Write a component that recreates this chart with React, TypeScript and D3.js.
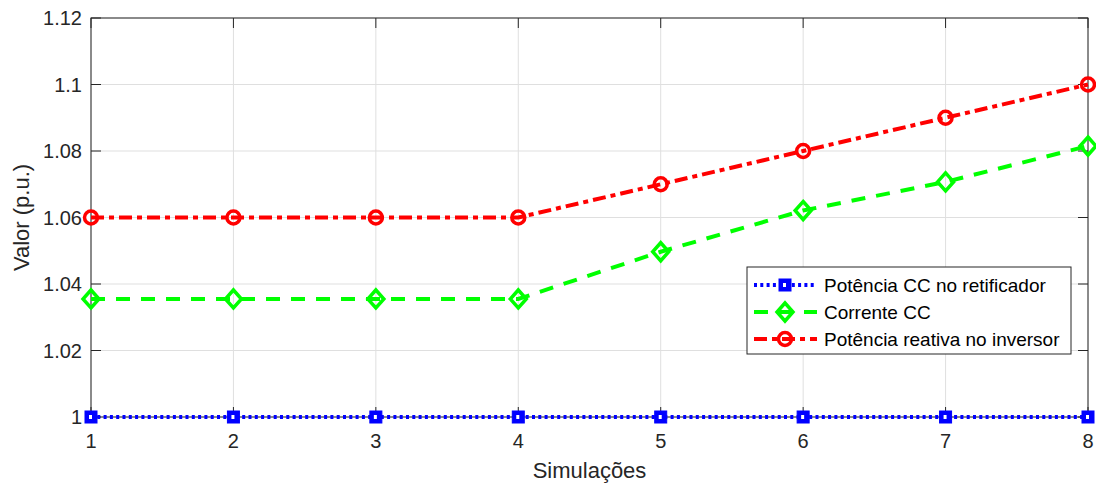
import React from "react";
import * as d3 from "d3";

const simulations = [1, 2, 3, 4, 5, 6, 7, 8];
const potenciaRetificador = [1, 1, 1, 1, 1, 1, 1, 1];
const correnteCC = [1.0355, 1.0355, 1.0355, 1.0355, 1.0497, 1.0621, 1.0707, 1.0815];
const potenciaReativa = [1.06, 1.06, 1.06, 1.06, 1.07, 1.08, 1.09, 1.1];
const yTicks = [1, 1.02, 1.04, 1.06, 1.08, 1.1, 1.12];
const yTickLabels = ["1", "1.02", "1.04", "1.06", "1.08", "1.1", "1.12"];

const W = 1096;
const H = 484;
const M = { left: 91, right: 1088, top: 18, bottom: 417 };
const FONT = "'Liberation Sans', Arial, Helvetica, sans-serif";
const AX = "#262626";

type Series = {
  name: string;
  values: number[];
  color: string;
  dash: string;
  marker: "square" | "diamond" | "circle";
};

const series: Series[] = [
  { name: "Potência CC no retificador", values: potenciaRetificador, color: "#0000ff", dash: "3 3.3", marker: "square" },
  { name: "Corrente CC", values: correnteCC, color: "#00ff00", dash: "14 11", marker: "diamond" },
  { name: "Potência reativa no inversor", values: potenciaReativa, color: "#ff0000", dash: "13 5 5 5", marker: "circle" },
];

function Marker({ kind, x, y, color }: { kind: Series["marker"]; x: number; y: number; color: string }) {
  if (kind === "square") {
    return (
      <g>
        <rect x={x - 6} y={y - 6} width={12} height={12} fill={color} stroke={color} strokeWidth={1} />
        <rect x={x - 2} y={y - 2} width={3} height={4} fill="#fff" />
      </g>
    );
  }
  if (kind === "diamond") {
    return (
      <path
        d={`M${x},${y - 9} L${x + 8},${y} L${x},${y + 9} L${x - 8},${y} Z`}
        fill="none"
        stroke={color}
        strokeWidth={3.5}
      />
    );
  }
  return <circle cx={x} cy={y} r={6.5} fill="none" stroke={color} strokeWidth={3.5} />;
}

export default function App() {
  const x = d3.scaleLinear().domain([1, 8]).range([M.left, M.right]);
  const y = d3.scaleLinear().domain([1, 1.12]).range([M.bottom, M.top]);
  const line = d3
    .line<number>()
    .x((_, i) => x(simulations[i]))
    .y((d) => y(d));

  const legendX = 747;
  const legendY = 267;
  const legendW = 324;
  const legendH = 87;

  return (
    <svg width={W} height={H} style={{ position: "absolute", left: 0, top: 0 }} fontFamily={FONT}>
      <rect width={W} height={H} fill="#fff" />
      {/* grid */}
      {simulations.map((s) => (
        <line key={"gx" + s} x1={x(s)} x2={x(s)} y1={M.top} y2={M.bottom} stroke="#dfdfdf" strokeWidth={1} />
      ))}
      {yTicks.map((t) => (
        <line key={"gy" + t} x1={M.left} x2={M.right} y1={y(t)} y2={y(t)} stroke="#dfdfdf" strokeWidth={1} />
      ))}
      {/* box */}
      <rect x={M.left} y={M.top} width={M.right - M.left} height={M.bottom - M.top} fill="none" stroke={AX} strokeWidth={1} />
      {/* ticks */}
      {yTicks.map((t) => (
        <g key={"ty" + t}>
          <line x1={M.left} x2={M.left + 10} y1={y(t)} y2={y(t)} stroke={AX} />
          <line x1={M.right - 10} x2={M.right} y1={y(t)} y2={y(t)} stroke={AX} />
        </g>
      ))}
      {simulations.map((s) => (
        <g key={"tx" + s}>
          <line x1={x(s)} x2={x(s)} y1={M.bottom} y2={M.bottom - 10} stroke={AX} />
          <line x1={x(s)} x2={x(s)} y1={M.top} y2={M.top + 10} stroke={AX} />
        </g>
      ))}
      {/* tick labels */}
      {yTicks.map((t, i) => (
        <text key={"ly" + t} x={M.left - 9} y={y(t)} dy="0.35em" textAnchor="end" fontSize={20} fill={AX}>
          {yTickLabels[i]}
        </text>
      ))}
      {simulations.map((s) => (
        <text key={"lx" + s} x={x(s)} y={448} textAnchor="middle" fontSize={20} fill={AX}>
          {s}
        </text>
      ))}
      <text x={(M.left + M.right) / 2} y={478} textAnchor="middle" fontSize={22} fill={AX}>
        Simulações
      </text>
      <text
        transform={`translate(29, ${(M.top + M.bottom) / 2}) rotate(-90)`}
        textAnchor="middle"
        fontSize={22}
        fill={AX}
      >
        Valor (p.u.)
      </text>
      {/* series */}
      {series.map((s) => (
        <g key={s.name}>
          <path d={line(s.values) ?? ""} fill="none" stroke={s.color} strokeWidth={4} strokeDasharray={s.dash} />
          {s.values.map((v, i) => (
            <Marker key={i} kind={s.marker} x={x(simulations[i])} y={y(v)} color={s.color} />
          ))}
        </g>
      ))}
      {/* legend */}
      <rect x={legendX} y={legendY} width={legendW} height={legendH} fill="#fff" stroke={AX} strokeWidth={1} />
      {series.map((s, i) => {
        const cy = legendY + 18 + i * 27;
        return (
          <g key={"leg" + s.name}>
            <line x1={754} x2={817} y1={cy} y2={cy} stroke={s.color} strokeWidth={4} strokeDasharray={s.dash} />
            <Marker kind={s.marker} x={785} y={cy} color={s.color} />
            <text x={824} y={cy} dy="0.35em" fontSize={19} fill="#000">
              {s.name}
            </text>
          </g>
        );
      })}
    </svg>
  );
}
